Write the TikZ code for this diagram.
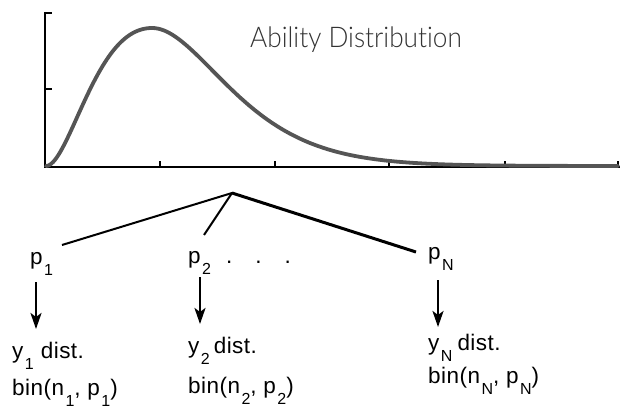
\documentclass[tikz,border=0pt]{standalone}
\usepackage{fontspec}
\setmainfont{Liberation Sans}
\newfontfamily\lblfont{Liberation Sans}[LetterSpace=2]
\newfontfamily\titlefont{Lato}[UprightFont={* Light},Ligatures=NoCommon]
\usetikzlibrary{arrows.meta}
\definecolor{curvegray}{HTML}{555555}
\definecolor{titlegray}{HTML}{333333}
\newcommand{\sbs}[1]{\kern1.5pt\raisebox{-11pt}{\fontsize{16}{16}\selectfont #1}}
\tikzset{
  lbl/.style={anchor=base west, inner sep=0pt, font=\lblfont\fontsize{22.5}{22.5}\selectfont},
  arr/.style={line width=2.4pt, -{Stealth[length=16pt,width=11pt,inset=4pt]}},
  branch/.style={line width=2pt},
  branchthick/.style={line width=3pt},
  axisline/.style={line width=2pt},
  tick/.style={line width=2pt},
  curve/.style={line width=3.8pt, color=curvegray, line join=round, line cap=round},
}
\begin{document}
\begin{tikzpicture}[x=1pt,y=-1pt]
\useasboundingbox (0,0) rectangle (620,406);
% axes
\draw[axisline] (45,12) -- (45,167) -- (620,167);
\foreach \yy in {13,89} \draw[tick] (45,\yy) -- (52,\yy);
\foreach \xx in {160,275,389,505,618} \draw[tick] (\xx,167) -- (\xx,161);
% distribution curve
\draw[curve] plot[domain=46:152, samples=60]
   ({\x},{166-138*pow(((\x-46)/106)*exp(1-(\x-46)/106),2)})
 -- plot[domain=152:618, samples=160]
   ({\x},{166-138*pow(((\x-46)/106)*exp(1-(\x-46)/106),3.1)});
\node[anchor=base west, inner sep=0pt, text=titlegray,
      font=\titlefont\fontsize{28.5}{28.5}\selectfont] (title) at (250,48)
      {\scalebox{0.92}[1]{Ability Distribution}};
% tree
\coordinate (apex) at (232,193);
\coordinate (e1) at (62,245);
\coordinate (e2) at (204,235);
\coordinate (eN) at (416,252);
\draw[branch] (apex) -- (e1);
\draw[branch] (apex) -- (e2);
\draw[branchthick] (apex) -- (eN);
% labels
\node[lbl] (p1) at (30,264) {p\sbs{1}};
\node[lbl] (p2) at (188,263) {p\sbs{2}\hspace{15pt}.\hspace{23pt}.\hspace{23pt}.};
\node[lbl] (pN) at (428,259) {p\sbs{N}};
\node[lbl] (y1) at (12,358) {y\sbs{1}\hspace{7pt}dist.};
\node[lbl] (b1) at (12,395) {bin(n\sbs{1}, p\sbs{1})};
\node[lbl] (y2) at (188,353) {y\sbs{2}\hspace{4pt}dist.};
\node[lbl] (b2) at (188,393) {bin(n\sbs{2}, p\sbs{2})};
\node[lbl] (yN) at (428,350) {y\sbs{N}\hspace{5pt}dist.};
\node[lbl] (bN) at (428,383) {bin(n\sbs{N}, p\sbs{N})};
% arrows
\coordinate (a1s) at (36,282); \coordinate (a1e) at (36,329);
\coordinate (a2s) at (200,277); \coordinate (a2e) at (200,324);
\coordinate (aNs) at (438,280); \coordinate (aNe) at (438,327);
\draw[arr] (a1s) -- (a1e);
\draw[arr] (a2s) -- (a2e);
\draw[arr] (aNs) -- (aNe);
\end{tikzpicture}
\end{document}
